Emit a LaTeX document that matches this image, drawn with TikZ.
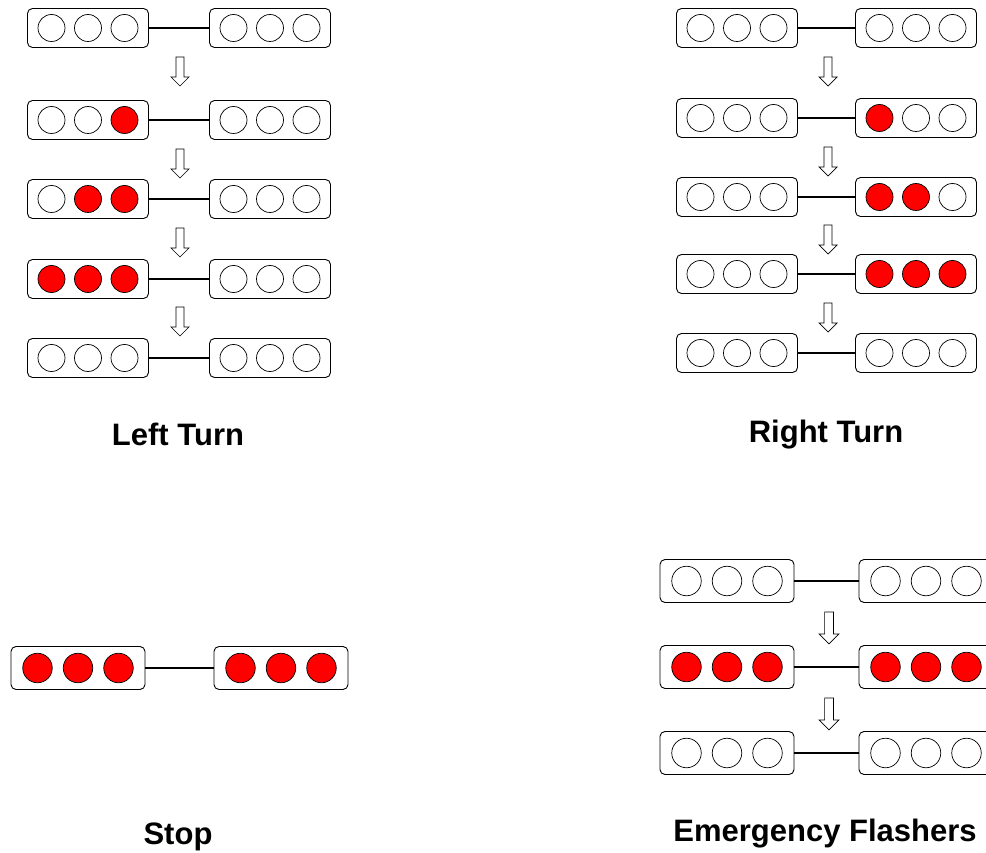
\documentclass[tikz,border=0pt]{standalone}
\usepackage{fontspec}
\setmainfont{Liberation Sans}

\tikzset{
  housing/.style={draw, rounded corners=5pt, line width=0.9pt, minimum width=121pt, minimum height=39pt, inner sep=0pt},
  lamp/.style={draw, circle, line width=0.7pt, minimum size=27pt, inner sep=0pt},
  wire/.style={line width=1.2pt},
  title/.style={font=\fontsize{31pt}{31pt}\selectfont\bfseries, anchor=base},
  flow/.pic={\draw[line width=0.7pt] (-4,0) -- (4,0) -- (4,20) -- (9,20) -- (0,29) -- (-9,20) -- (-4,20) -- cycle;},
}
\newcommand{\lampgap}{36.5pt}
% #1 name, #2 x of left housing, #3 x of right housing, #4 y, #5 left lamps, #6 right lamps
\newcommand{\signalpair}[6]{%
  \node[housing] (#1a) at (#2,#4) {};
  \node[housing] (#1b) at (#3,#4) {};
  \foreach \c [count=\i] in {#5}
    \node[lamp, fill=\c] (#1a\i) at ([xshift={(\i-2)*\lampgap}]#1a.center) {};
  \foreach \c [count=\i] in {#6}
    \node[lamp, fill=\c] (#1b\i) at ([xshift={(\i-2)*\lampgap}]#1b.center) {};
  \draw[wire] (#1a) -- (#1b);
}

\begin{document}
\begin{tikzpicture}[x=1pt, y=-1pt]
    \useasboundingbox (0,0) rectangle (986,853);
    \clip (0,0) rectangle (986,853);

    % left turn
    \signalpair{LT1}{88}{270}{28}{white,white,white}{white,white,white}
    \signalpair{LT2}{88}{270}{120}{white,white,red}{white,white,white}
    \signalpair{LT3}{88}{270}{199}{white,red,red}{white,white,white}
    \signalpair{LT4}{88}{270}{279}{red,red,red}{white,white,white}
    \signalpair{LT5}{88}{270}{358}{white,white,white}{white,white,white}
    \pic at (180,57) {flow};
    \pic at (180,149) {flow};
    \pic at (180,228) {flow};
    \pic at (180,307) {flow};
    \node[title] (lefttitle) at (178,445) {Left Turn};

    % right turn
    \signalpair{RT1}{737}{916}{28}{white,white,white}{white,white,white}
    \signalpair{RT2}{737}{916}{118}{white,white,white}{red,white,white}
    \signalpair{RT3}{737}{916}{197}{white,white,white}{red,red,white}
    \signalpair{RT4}{737}{916}{274}{white,white,white}{red,red,red}
    \signalpair{RT5}{737}{916}{353}{white,white,white}{white,white,white}
    \pic at (828,57) {flow};
    \pic at (828,147) {flow};
    \pic at (828,225) {flow};
    \pic at (828,303) {flow};
    \node[title] (righttitle) at (826,442) {Right Turn};

    \begin{scope}[housing/.append style={minimum width=134pt, minimum height=43pt},
                  lamp/.append style={minimum size=29.5pt}]
    \renewcommand{\lampgap}{40.5pt}
    % stop
    \signalpair{ST}{78}{281}{668}{red,red,red}{red,red,red}
    \node[title] (stoptitle) at (178,844) {Stop};

    % emergency flashers
    \signalpair{EF1}{727}{926}{581}{white,white,white}{white,white,white}
    \signalpair{EF2}{727}{926}{667}{red,red,red}{red,red,red}
    \signalpair{EF3}{727}{926}{753}{white,white,white}{white,white,white}
    \pic[scale=1.1] at (829,612) {flow};
    \pic[scale=1.1] at (829,698) {flow};
    \node[title] (flashtitle) at (825,841) {Emergency Flashers};
    \end{scope}
\end{tikzpicture}
\end{document}
